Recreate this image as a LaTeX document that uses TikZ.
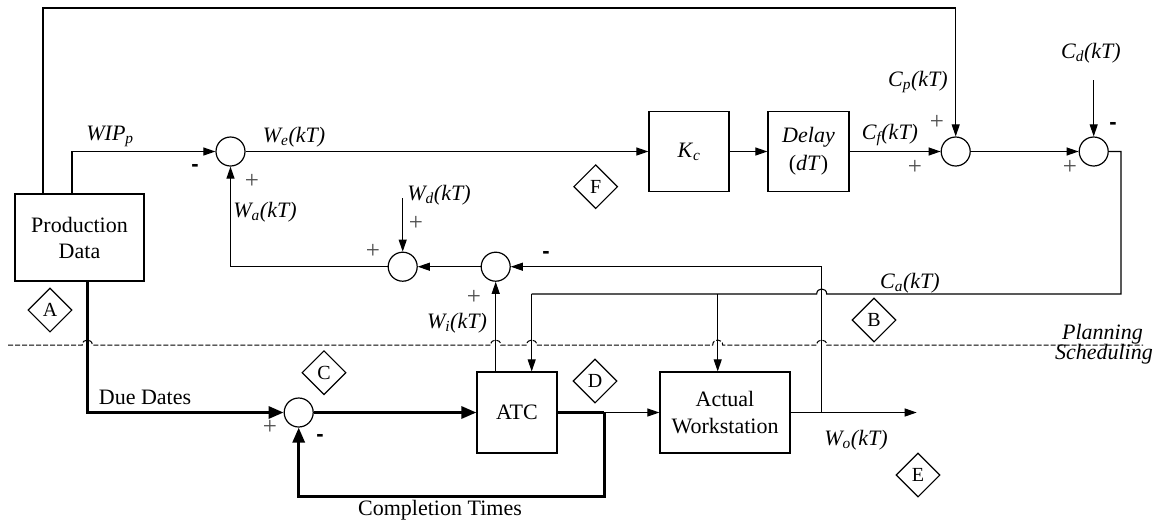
\documentclass[tikz,border=0pt]{standalone}
\usepackage{fontspec}
\setmainfont{Liberation Serif}
\setsansfont{Liberation Sans}
\usetikzlibrary{arrows.meta,shapes.geometric}
\begin{document}
\begin{tikzpicture}[x=1pt,y=-1pt,
  wire/.style={line width=1.1pt},
  sig/.style={line width=1.1pt,-{Triangle[length=12pt,width=8pt]}},
  heavy/.style={line width=3pt},
  heavyarrow/.style={line width=3pt,-{Triangle[length=15pt,width=12pt]}},
  dashline/.style={line width=1pt,dash pattern=on 5pt off 2pt},
  sumnode/.style={circle,draw,line width=1.2pt,minimum size=29pt,inner sep=0pt},
  blk/.style={draw,line width=1.2pt,align=center,inner sep=0pt,font=\fontsize{22}{26}\selectfont},
  tag/.style={diamond,draw,line width=1.1pt,minimum size=44pt,inner sep=0pt,font=\fontsize{20}{20}\selectfont},
  lbl/.style={font=\fontsize{22}{26}\selectfont\itshape,inner sep=0pt},
  txt/.style={font=\fontsize{22}{26}\selectfont,inner sep=0pt},
  plus/.style={font=\fontsize{25}{25}\selectfont,text=black!70,inner sep=0pt},
  minus/.style={font=\fontsize{22}{22}\sffamily\bfseries,inner sep=0pt}]
\useasboundingbox (0,0) rectangle (1163,523);

% blocks
\node[blk,minimum width=129pt,minimum height=87pt] (pd) at (79.5,237.5) {Production\\Data};
\node[blk,minimum width=80pt,minimum height=80pt] (kc) at (689,151.5) {\textit{K}\textsubscript{\textit{c}}};
\node[blk,minimum width=81pt,minimum height=80pt,font=\fontsize{22}{28}\selectfont] (dl) at (808.5,151.5) {\textit{Delay}\\(\textit{dT})};
\node[blk,minimum width=80pt,minimum height=81pt] (atc) at (517,412.5) {ATC};
\node[blk,minimum width=130pt,minimum height=81pt,font=\fontsize{22}{27}\selectfont] (aw) at (725,412.5) {Actual\\Workstation};

% summing junctions
\node[sumnode] (s1) at (230.5,151.5) {};
\node[sumnode] (s2) at (402.7,266.7) {};
\node[sumnode] (s3) at (495.7,266.7) {};
\node[sumnode] (sp) at (955.7,151.5) {};
\node[sumnode] (sd) at (1093.7,151.5) {};
\node[sumnode] (sc) at (298.7,412.5) {};

% free ends and corners
\coordinate (topy) at (0,8);
\coordinate (wdin) at (402.7,198);
\coordinate (cdin) at (1093.7,80);
\coordinate (caline) at (1121,294);
\coordinate (caatc) at (531.7,294);
\coordinate (caaw) at (717.7,294);
\coordinate (wotap) at (821.7,412.5);
\coordinate (woend) at (916.7,412.5);
\coordinate (ctR) at (604,412.5);
\coordinate (ctB) at (604,496);

% planning / scheduling boundary
\draw[dashline] (8,345) -- (82.3,345) .. controls (82.3,338.3) and (92.3,338.3) .. (92.3,345)
  -- (490.7,345) .. controls (490.7,338.3) and (500.7,338.3) .. (500.7,345)
  -- (526.7,345) .. controls (526.7,338.3) and (536.7,338.3) .. (536.7,345)
  -- (712.7,345) .. controls (712.7,338.3) and (722.7,338.3) .. (722.7,345)
  -- (816.7,345) .. controls (816.7,338.3) and (826.7,338.3) .. (826.7,345)
  -- (1143,345);
\node[lbl,anchor=east] (plan) at (1143,334) {Planning};
\node[lbl,anchor=east] (sched) at (1153,354) {Scheduling};

% planning loop
\draw[sig] ([xshift=-36.5pt]pd.north) |- (topy -| sp) -- (sp.north);
\draw[sig] ([xshift=-7.5pt]pd.north) |- (s1.west);
\draw[sig] (s1.east) -- (kc.west);
\draw[sig] (kc.east) -- (dl.west);
\draw[sig] (dl.east) -- (sp.west);
\draw[sig] (sp.east) -- (sd.west);
\draw[sig] (cdin) -- (sd.north);
\draw[wire] (sd.east) -| (caline) -- (826.7,294) .. controls (826.7,287.3) and (816.7,287.3) .. (816.7,294) -- (caatc);
\draw[sig] (caatc) -- (caatc |- atc.north);
\draw[sig] (caaw) -- (caaw |- aw.north);
\draw[sig] (s2.west) -| (s1.south);
\draw[sig] (wdin) -- (s2.north);
\draw[sig] (s3.west) -- (s2.east);
\draw[sig] (atc.north -| s3) -- (s3.south);
\draw[sig] (wotap) |- (s3.east);

% scheduling loop
\draw[heavyarrow] ([xshift=7.8pt]pd.south) |- (sc.west);
\draw[heavyarrow] (sc.east) -- (atc.west);
\draw[heavy] (atc.east) -- (ctR);
\draw[heavyarrow] (ctR) -- (ctB) -| (sc.south);
\draw[sig] (ctR) -- (aw.west);
\draw[sig] (aw.east) -- (woend);

% signal labels
\node[lbl] (wip) at (110,136) {WIP\textsubscript{p}};
\node[lbl] (we) at (294,137) {W\textsubscript{e}(kT)};
\node[lbl] (wa) at (265,212) {W\textsubscript{a}(kT)};
\node[lbl] (wd) at (439,195) {W\textsubscript{d}(kT)};
\node[lbl] (wi) at (457,323) {W\textsubscript{i}(kT)};
\node[lbl] (ca) at (910,283) {C\textsubscript{a}(kT)};
\node[lbl] (cf) at (890,135) {C\textsubscript{f}(kT)};
\node[lbl] (cp) at (918,82) {C\textsubscript{p}(kT)};
\node[lbl] (cd) at (1091,53) {C\textsubscript{d}(kT)};
\node[lbl] (wo) at (856,440) {W\textsubscript{o}(kT)};
\node[txt] (dd) at (145,397) {Due Dates};
\node[txt] (ct) at (440,510) {Completion Times};

% signs
\node[minus] (m1) at (195,168) {-};
\node[plus] (p1) at (252,181) {+};
\node[plus] (p2) at (373,251) {+};
\node[plus] (p3) at (416,223) {+};
\node[minus] (m2) at (546,255) {-};
\node[plus] (p4) at (474,297) {+};
\node[plus] (p5) at (937,122) {+};
\node[plus] (p6) at (915,167) {+};
\node[minus] (m3) at (1113,126) {-};
\node[plus] (p7) at (1070,167) {+};
\node[plus] (p8) at (270,427) {+};
\node[minus] (m4) at (320,438) {-};

% tags
\node[tag] (ta) at (50,310) {A};
\node[tag] (tb) at (874,320) {B};
\node[tag] (tc) at (324,372.7) {C};
\node[tag] (td) at (595,381) {D};
\node[tag] (te) at (918,475) {E};
\node[tag] (tf) at (595.7,186.7) {F};
\end{tikzpicture}
\end{document}
